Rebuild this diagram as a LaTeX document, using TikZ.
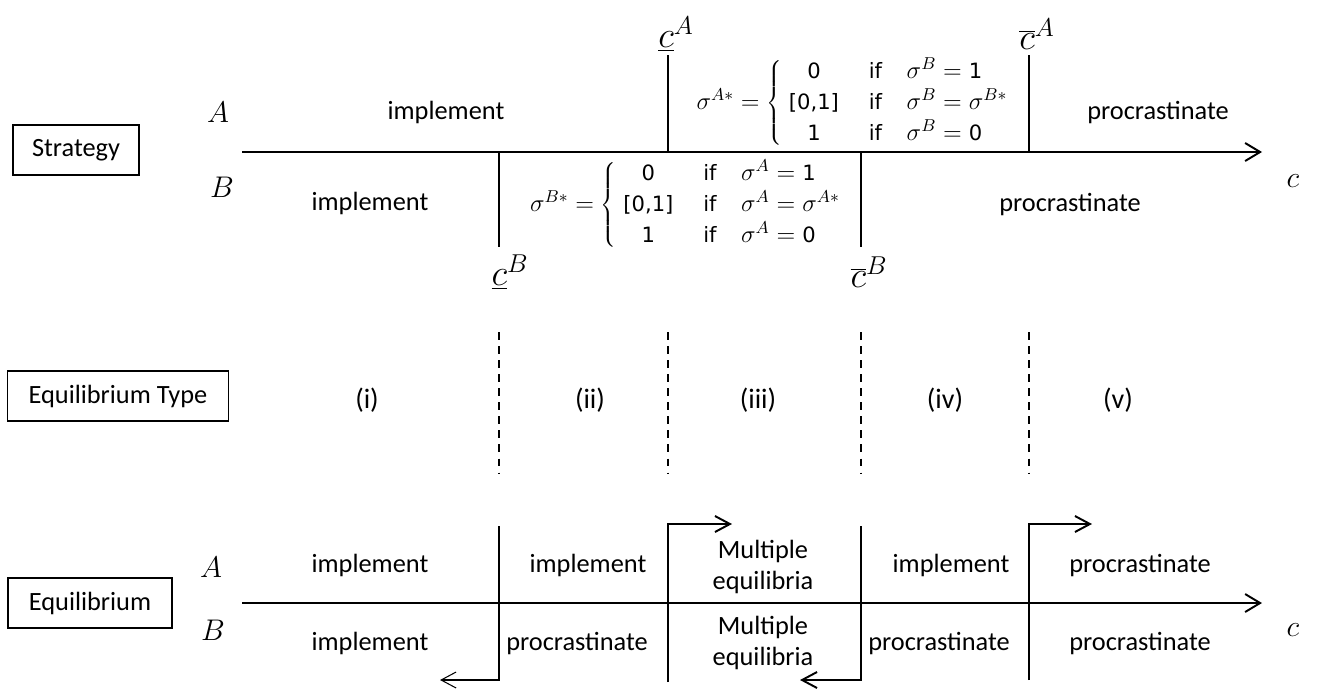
\RequirePackage{fix-cm}
\documentclass[tikz,border=0pt]{standalone}
\usepackage{fontspec}
\setsansfont{Carlito}
\newfontfamily\dvfont{DejaVu Sans}
\usetikzlibrary{arrows.meta}

\newcommand{\dv}[1]{\mbox{\dvfont\fontsize{12}{14}\selectfont #1}}

\begin{document}
\begin{tikzpicture}[x=0.02cm, y=-0.02cm,
  every node/.style={font=\sffamily\fontsize{15}{17.6}\selectfont},
  axis/.style={line width=1.1pt, -{Straight Barb[length=3mm,width=3.6mm]}},
  thresh/.style={line width=1.1pt},
  thinthresh/.style={line width=0.6pt},
  jump/.style={line width=1.1pt, -{Straight Barb[length=3mm,width=3.2mm]}},
  typeline/.style={line width=1pt, dash pattern=on 4.5pt off 3.5pt},
  labelbox/.style={draw, line width=0.8pt, minimum height=1cm},
  mathlbl/.style={font=\fontsize{17}{20}\selectfont},
  cutlbl/.style={font=\fontsize{21}{24}\selectfont},
  formula/.style={font=\fontsize{14}{15}\selectfont}]

        \useasboundingbox (0,0) rectangle (1318,691);

        %===========================
        % Strategy
        %===========================

        \draw node (strat) at (76,150) [labelbox, minimum width=2.52cm] {Strategy};
        \node[mathlbl] (sA) at (218,112) {$A$};
        \node[mathlbl] (sB) at (222,187) {$B$};
        \node[mathlbl] (sc) at (1293,181) {$c$};

        \coordinate (s0) at (242,152);
        \coordinate (s1) at (1262,152);
        \draw[axis] (s0) -- (s1);

        % Thresholds of A (above) and B (below)
        \coordinate (cAu) at (668,55);   \coordinate (cAd) at (668,152);
        \coordinate (CAu) at (1029,55);  \coordinate (CAd) at (1029,152);
        \coordinate (cBu) at (499,152);  \coordinate (cBd) at (499,247);
        \coordinate (CBu) at (861,152);  \coordinate (CBd) at (861,247);
        \draw[thresh] (cAu) -- (cAd);
        \draw[thresh] (CAu) -- (CAd);
        \draw[thinthresh] (cBu) -- (cBd);
        \draw[thresh] (CBu) -- (CBd);

        \node[cutlbl] (lcA) at (676,34) {$\underline{c}^A$};
        \node[cutlbl] (lCA) at (1037,34) {$\overline{c}^A$};
        \node[cutlbl] (lcB) at (510,272) {$\underline{c}^B$};
        \node[cutlbl] (lCB) at (869,272) {$\overline{c}^B$};

        % Best responses
        \node (impA) at (446,112) {implement};
        \node (proA) at (1158,113) {procrastinate};
        \node (impB) at (370,203) {implement};
        \node (proB) at (1070,205) {procrastinate};

        \node[formula] (sigA) at (853,103) {$\sigma^{A*} = \left\{
          \renewcommand{\arraystretch}{1.17}
          \begin{array}{@{\;}c@{\hspace{17pt}}l@{\hspace{14pt}}l@{}}
            \dv{0} & \dv{if} & \sigma^B = \dv{1}\\
            \dv{[0,1]} & \dv{if} & \sigma^B = \sigma^{B*}\\
            \dv{1} & \dv{if} & \sigma^B = \dv{0}
          \end{array}\right.$};
        \node[formula] (sigB) at (686,205) {$\sigma^{B*} = \left\{
          \renewcommand{\arraystretch}{1.17}
          \begin{array}{@{\;}c@{\hspace{17pt}}l@{\hspace{14pt}}l@{}}
            \dv{0} & \dv{if} & \sigma^A = \dv{1}\\
            \dv{[0,1]} & \dv{if} & \sigma^A = \sigma^{A*}\\
            \dv{1} & \dv{if} & \sigma^A = \dv{0}
          \end{array}\right.$};


        %===========================
        % Equilibrium Type
        %===========================

        \draw node (etype) at (118,396) [labelbox, minimum width=4.42cm] {Equilibrium Type};

        \coordinate (t1u) at (499,332);  \coordinate (t1d) at (499,473);
        \coordinate (t2u) at (668,332);  \coordinate (t2d) at (668,473);
        \coordinate (t3u) at (861,332);  \coordinate (t3d) at (861,473);
        \coordinate (t4u) at (1029,332); \coordinate (t4d) at (1029,473);
        \draw[typeline, line width=0.6pt] (t1u) -- (t1d);
        \draw[typeline] (t2u) -- (t2d);
        \draw[typeline] (t3u) -- (t3d);
        \draw[typeline] (t4u) -- (t4d);

        \node[font=\sffamily\fontsize{16}{19}\selectfont] (ti) at (367,400) {(i)};
        \node[font=\sffamily\fontsize{16}{19}\selectfont] (tii) at (590,400) {(ii)};
        \node[font=\sffamily\fontsize{16}{19}\selectfont] (tiii) at (758,400) {(iii)};
        \node[font=\sffamily\fontsize{16}{19}\selectfont] (tiv) at (945,400) {(iv)};
        \node[font=\sffamily\fontsize{16}{19}\selectfont] (tv) at (1118,400) {(v)};


        %===========================
        % Equilibrium
        %===========================

        \draw node (equil) at (90,603) [labelbox, minimum width=3.28cm] {Equilibrium};
        \node[mathlbl] (eA) at (211,567) {$A$};
        \node[mathlbl] (eB) at (213,630) {$B$};
        \node[mathlbl] (ec) at (1293,630) {$c$};

        \coordinate (e0) at (242,603);
        \coordinate (e1) at (1262,603);
        \draw[axis] (e0) -- (e1);

        % Jumps between the regions
        \coordinate (j1a) at (499,526);  \coordinate (j1b) at (499,680);  \coordinate (j1c) at (440,680);
        \coordinate (j2a) at (668,682);  \coordinate (j2b) at (668,524);  \coordinate (j2c) at (732,524);
        \coordinate (j3a) at (861,526);  \coordinate (j3b) at (861,680);  \coordinate (j3c) at (800,680);
        \coordinate (j4a) at (1029,680); \coordinate (j4b) at (1029,524); \coordinate (j4c) at (1092,524);
        \draw[jump, line width=0.6pt] (j1a) -- (j1b) -- (j1c);
        \draw[jump] (j2a) -- (j2b) -- (j2c);
        \draw[jump] (j3a) -- (j3b) -- (j3c);
        \draw[jump] (j4a) -- (j4b) -- (j4c);

        % A row
        \node (a1) at (370,565) {implement};
        \node (a2) at (588,565) {implement};
        \node[align=center] (a3) at (763,567) {Multiple\\equilibria};
        \node (a4) at (951,565) {implement};
        \node (a5) at (1140,565) {procrastinate};

        % B row
        \node (b1) at (370,643) {implement};
        \node (b2) at (577,643) {procrastinate};
        \node[align=center] (b3) at (763,643) {Multiple\\equilibria};
        \node (b4) at (939,643) {procrastinate};
        \node (b5) at (1140,643) {procrastinate};

    \end{tikzpicture}
\end{document}
